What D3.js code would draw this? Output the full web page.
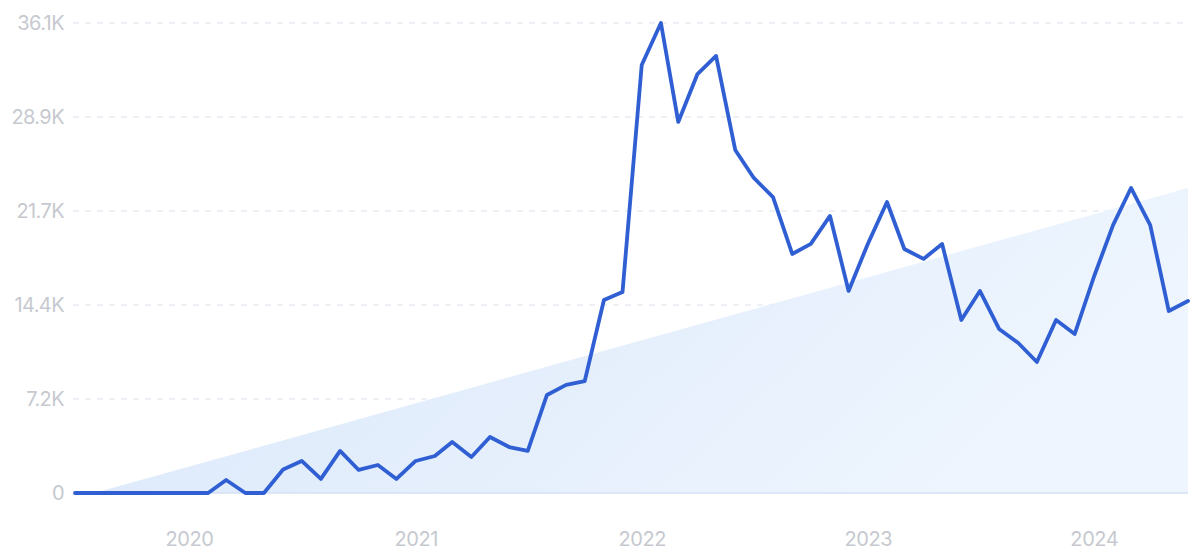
<!DOCTYPE html>
<html>
<head>
<meta charset="utf-8">
<script src="https://cdn.jsdelivr.net/npm/d3@7"></script>
<style>
  html, body { margin: 0; padding: 0; background: #ffffff; }
  svg { display: block; }
</style>
</head>
<body>
<svg id="chart" width="1200" height="558"></svg>
<script>
// ---- data ----
const startMonth = "2019-07";
const values = [
  0, 0, 0, 0, 0, 0,            // 2019 Jul-Dec
  0, 0, 1000, 0, 0, 1800, 2460, 1080, 3230, 1770, 2150, 1080,   // 2020
  2460, 2840, 3920, 2770, 4300, 3530, 3230, 7530, 8300, 8600, 14820, 15440, // 2021
  32870, 36100, 28500, 32180, 33570, 26350, 24200, 22730, 18360, 19130, 21280, 15520, // 2022
  19130, 22350, 18740, 17980, 19130, 13290, 15520, 12600, 11520, 10060, 13290, 12210, // 2023
  16590, 20580, 23430, 20580, 13980, 14750  // 2024 Jan-Jun
];
const trendIndex = [1, 59];
const trendValues = [0, 23430];
const yTickValues = [0, 7220, 14440, 21660, 28880, 36100];
const xTickYears = [2020, 2021, 2022, 2023, 2024];

// ---- setup ----
const parse = d3.timeParse("%Y-%m");
const start = parse(startMonth);
const dates = values.map((v, i) => d3.timeMonth.offset(start, i));
const data = values.map((v, i) => ({ date: dates[i], value: v }));

const svg = d3.select("#chart");
const x = d3.scaleTime().domain([dates[0], dates[dates.length - 1]]).range([75, 1188]);
const y = d3.scaleLinear().domain([0, 36100]).range([493, 23]);

const defs = svg.append("defs");
const grad = defs.append("linearGradient")
  .attr("id", "trendFill").attr("x1", "0").attr("y1", "0").attr("x2", "1").attr("y2", "0.3");
grad.append("stop").attr("offset", "0%").attr("stop-color", "#d9e7fa");
grad.append("stop").attr("offset", "100%").attr("stop-color", "#eef5fe");

// gridlines
svg.append("g").selectAll("line")
  .data(yTickValues.filter(d => d > 0))
  .join("line")
  .attr("x1", 73).attr("x2", 1188)
  .attr("y1", d => y(d)).attr("y2", d => y(d))
  .attr("stroke", "#dbe2ef").attr("stroke-width", 1)
  .attr("stroke-dasharray", "6,6");

// trend area
const trendPts = trendIndex.map((idx, k) => ({ date: d3.timeMonth.offset(start, idx), value: trendValues[k] }));
const trendArea = d3.area()
  .x(d => x(d.date))
  .y0(y(0))
  .y1(d => y(d.value));
svg.append("path")
  .datum(trendPts)
  .attr("d", trendArea)
  .attr("fill", "url(#trendFill)");

// baseline
svg.append("line")
  .attr("x1", 75).attr("x2", 1188)
  .attr("y1", y(0)).attr("y2", y(0))
  .attr("stroke", "#d5e1f4").attr("stroke-width", 1.5);

// y axis
const yAxis = d3.axisLeft(y)
  .tickValues(yTickValues)
  .tickSize(0)
  .tickPadding(0)
  .tickFormat(d => d === 0 ? "0" : (d / 1000).toFixed(1) + "K");
const yg = svg.append("g").attr("transform", "translate(64,0)").call(yAxis);
yg.select(".domain").remove();
yg.selectAll("text")
  .attr("fill", "#c6c9cf")
  .attr("font-family", "Inter, 'Noto Sans', sans-serif")
  .attr("font-size", 20)
  .attr("letter-spacing", -0.6);

// x axis
const xAxis = d3.axisBottom(x)
  .tickValues(xTickYears.map(yr => new Date(yr, 0, 1)))
  .tickSize(0)
  .tickPadding(0)
  .tickFormat(d3.timeFormat("%Y"));
const xg = svg.append("g").attr("transform", "translate(0,532)").call(xAxis);
xg.select(".domain").remove();
xg.selectAll("text")
  .attr("fill", "#c6c9cf")
  .attr("font-family", "Inter, 'Noto Sans', sans-serif")
  .attr("font-size", 20)
  .attr("letter-spacing", -0.4);

// line
const line = d3.line().x(d => x(d.date)).y(d => y(d.value));
svg.append("path")
  .datum(data)
  .attr("d", line)
  .attr("fill", "none")
  .attr("stroke", "#2f5fd3")
  .attr("stroke-width", 3.8)
  .attr("stroke-linejoin", "round")
  .attr("stroke-linecap", "round");
</script>
</body>
</html>
